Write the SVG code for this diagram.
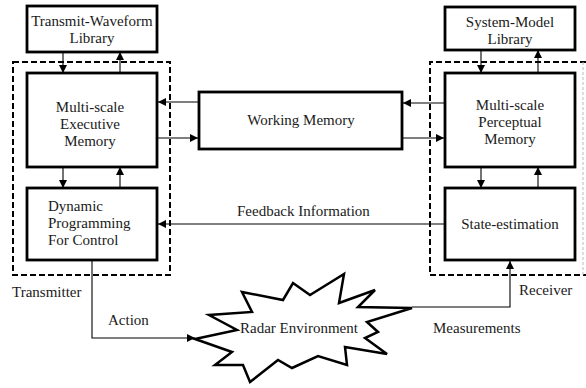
<svg xmlns="http://www.w3.org/2000/svg" width="586" height="388" viewBox="0 0 586 388">
<defs>
<marker id="ah" viewBox="0 0 10 10" refX="10" refY="5" markerWidth="8" markerHeight="8" markerUnits="userSpaceOnUse" orient="auto">
<path d="M0,0 L10,5 L0,10 z" fill="#000"/>
</marker>
</defs>
<style>
.box{fill:#fff;stroke:#000;stroke-width:2.8}
.dash{fill:none;stroke:#000;stroke-width:2;stroke-dasharray:6,3}
.ln{fill:none;stroke:#000;stroke-width:1.1}
.t{font-family:'Liberation Serif',serif;font-size:15px;fill:#1a1a1a}
.c{text-anchor:middle}
</style>
<rect width="586" height="388" fill="#fff"/>
<g id="transmitter-group">
<rect class="dash" x="13" y="62" width="157" height="213"/>
<text class="t" x="12" y="297">Transmitter</text>
</g>
<g id="receiver-group">
<path class="dash" d="M586,62 L430,62 L430,275 L586,275"/>
<line x1="583" y1="62" x2="583" y2="275" stroke="#bbb" stroke-width="1" stroke-dasharray="3,2"/>
<text class="t" x="519" y="295">Receiver</text>
</g>
<g id="tw-library">
<rect class="box" x="27" y="6" width="130" height="46"/>
<text class="t c" x="92" y="26">Transmit-Waveform</text>
<text class="t c" x="92" y="43">Library</text>
</g>
<g id="executive-memory">
<rect class="box" x="27" y="73" width="130" height="94"/>
<text class="t c" x="90" y="112">Multi-scale</text>
<text class="t c" x="90" y="129">Executive</text>
<text class="t c" x="90" y="146">Memory</text>
</g>
<g id="dynamic-programming">
<rect class="box" x="27" y="188" width="130" height="72"/>
<text class="t" x="48" y="211">Dynamic</text>
<text class="t" x="48" y="228">Programming</text>
<text class="t" x="48" y="245">For Control</text>
</g>
<g id="working-memory">
<rect class="box" x="199" y="92" width="203" height="57"/>
<text class="t c" x="301" y="125">Working Memory</text>
</g>
<g id="sm-library">
<rect class="box" x="445" y="7" width="130" height="43"/>
<text class="t c" x="510" y="27">System-Model</text>
<text class="t c" x="510" y="44">Library</text>
</g>
<g id="perceptual-memory">
<rect class="box" x="445" y="73" width="130" height="94"/>
<text class="t c" x="510" y="110">Multi-scale</text>
<text class="t c" x="510" y="127">Perceptual</text>
<text class="t c" x="510" y="144">Memory</text>
</g>
<g id="state-estimation">
<rect class="box" x="445" y="188" width="130" height="72"/>
<text class="t c" x="510" y="229">State-estimation</text>
</g>
<g id="radar-environment">
<path d="M195,339 L237,330 L209,315 L252,312 L242,292 L283,300 L293,283 L310,295 L344,274 L339,303 L375,290 L358,307 L412,308 L367,322 L378,332 L365,338 L387,354 L345,347 L347,365 L318,356 L292,368 L278,360 L250,382 L243,365 L215,365 L232,352 Z" fill="#fff" stroke="#000" stroke-width="2.5" stroke-linejoin="miter"/>
<text class="t" x="240" y="333">Radar Environment</text>
</g>
<g id="connectors">
<line class="ln" x1="63" y1="52" x2="63" y2="73" marker-end="url(#ah)"/>
<line class="ln" x1="120" y1="73" x2="120" y2="52" marker-end="url(#ah)"/>
<line class="ln" x1="63" y1="167" x2="63" y2="188" marker-end="url(#ah)"/>
<line class="ln" x1="120" y1="188" x2="120" y2="167" marker-end="url(#ah)"/>
<line class="ln" x1="199" y1="102" x2="158" y2="102" marker-end="url(#ah)"/>
<line class="ln" x1="157" y1="138" x2="198" y2="138" marker-end="url(#ah)"/>
<line class="ln" x1="445" y1="103" x2="403" y2="103" marker-end="url(#ah)"/>
<line class="ln" x1="402" y1="138" x2="444" y2="138" marker-end="url(#ah)"/>
<line class="ln" x1="481" y1="50" x2="481" y2="73" marker-end="url(#ah)"/>
<line class="ln" x1="538" y1="73" x2="538" y2="50" marker-end="url(#ah)"/>
<line class="ln" x1="481" y1="167" x2="481" y2="188" marker-end="url(#ah)"/>
<line class="ln" x1="538" y1="188" x2="538" y2="167" marker-end="url(#ah)"/>
<line class="ln" x1="445" y1="224" x2="158" y2="224" marker-end="url(#ah)"/>
<text class="t" x="237" y="216">Feedback Information</text>
<polyline class="ln" points="92,260 92,338 195,338" marker-end="url(#ah)"/>
<text class="t" x="108" y="325">Action</text>
<polyline class="ln" points="412,307 510,307 510,261" marker-end="url(#ah)"/>
<text class="t" x="433" y="333">Measurements</text>
</g>
</svg>
